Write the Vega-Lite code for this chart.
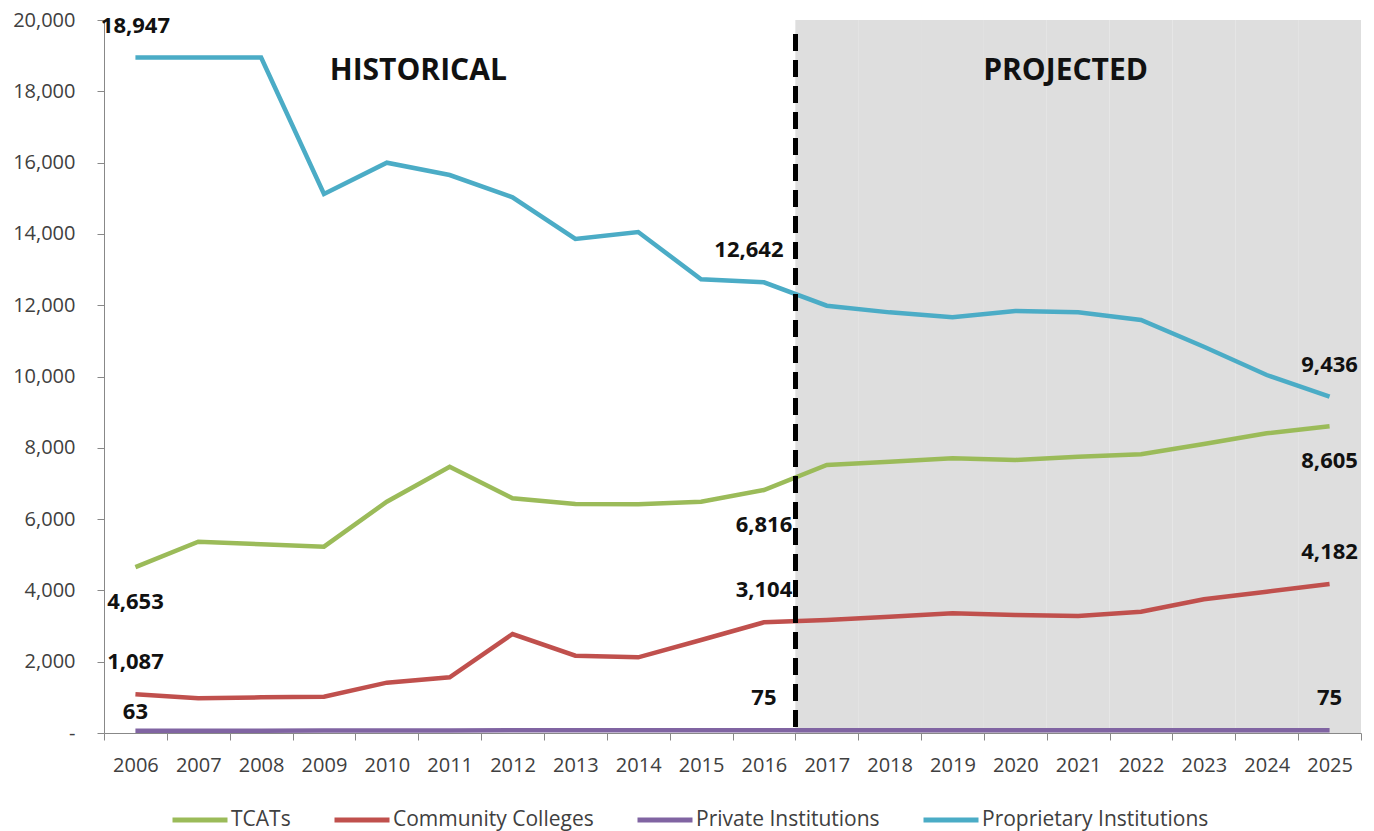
{
  "$schema": "https://vega.github.io/schema/vega-lite/v6.json",
  "width": 1257,
  "height": 713,
  "autosize": {"type": "none"},
  "padding": {"left": 104, "top": 20, "right": 13, "bottom": 98},
  "background": "white",
  "config": {
    "font": "Open Sans",
    "view": {"stroke": null}
  },
  "data": {
    "values": [
      {"year": 2006, "series": "TCATs", "value": 4653},
      {"year": 2007, "series": "TCATs", "value": 5367},
      {"year": 2008, "series": "TCATs", "value": 5292},
      {"year": 2009, "series": "TCATs", "value": 5226},
      {"year": 2010, "series": "TCATs", "value": 6489},
      {"year": 2011, "series": "TCATs", "value": 7470},
      {"year": 2012, "series": "TCATs", "value": 6582},
      {"year": 2013, "series": "TCATs", "value": 6424},
      {"year": 2014, "series": "TCATs", "value": 6414},
      {"year": 2015, "series": "TCATs", "value": 6489},
      {"year": 2016, "series": "TCATs", "value": 6816},
      {"year": 2017, "series": "TCATs", "value": 7518},
      {"year": 2018, "series": "TCATs", "value": 7611},
      {"year": 2019, "series": "TCATs", "value": 7705},
      {"year": 2020, "series": "TCATs", "value": 7658},
      {"year": 2021, "series": "TCATs", "value": 7752},
      {"year": 2022, "series": "TCATs", "value": 7817},
      {"year": 2023, "series": "TCATs", "value": 8107},
      {"year": 2024, "series": "TCATs", "value": 8406},
      {"year": 2025, "series": "TCATs", "value": 8605},
      {"year": 2006, "series": "Community Colleges", "value": 1087},
      {"year": 2007, "series": "Community Colleges", "value": 973},
      {"year": 2008, "series": "Community Colleges", "value": 1001},
      {"year": 2009, "series": "Community Colleges", "value": 1019},
      {"year": 2010, "series": "Community Colleges", "value": 1412},
      {"year": 2011, "series": "Community Colleges", "value": 1562},
      {"year": 2012, "series": "Community Colleges", "value": 2777},
      {"year": 2013, "series": "Community Colleges", "value": 2169},
      {"year": 2014, "series": "Community Colleges", "value": 2123},
      {"year": 2015, "series": "Community Colleges", "value": 2609},
      {"year": 2016, "series": "Community Colleges", "value": 3104},
      {"year": 2017, "series": "Community Colleges", "value": 3170},
      {"year": 2018, "series": "Community Colleges", "value": 3263},
      {"year": 2019, "series": "Community Colleges", "value": 3357},
      {"year": 2020, "series": "Community Colleges", "value": 3310},
      {"year": 2021, "series": "Community Colleges", "value": 3282},
      {"year": 2022, "series": "Community Colleges", "value": 3403},
      {"year": 2023, "series": "Community Colleges", "value": 3749},
      {"year": 2024, "series": "Community Colleges", "value": 3964},
      {"year": 2025, "series": "Community Colleges", "value": 4182},
      {"year": 2006, "series": "Private Institutions", "value": 63},
      {"year": 2007, "series": "Private Institutions", "value": 64},
      {"year": 2008, "series": "Private Institutions", "value": 66},
      {"year": 2009, "series": "Private Institutions", "value": 68},
      {"year": 2010, "series": "Private Institutions", "value": 70},
      {"year": 2011, "series": "Private Institutions", "value": 72},
      {"year": 2012, "series": "Private Institutions", "value": 74},
      {"year": 2013, "series": "Private Institutions", "value": 75},
      {"year": 2014, "series": "Private Institutions", "value": 75},
      {"year": 2015, "series": "Private Institutions", "value": 75},
      {"year": 2016, "series": "Private Institutions", "value": 75},
      {"year": 2017, "series": "Private Institutions", "value": 75},
      {"year": 2018, "series": "Private Institutions", "value": 75},
      {"year": 2019, "series": "Private Institutions", "value": 75},
      {"year": 2020, "series": "Private Institutions", "value": 75},
      {"year": 2021, "series": "Private Institutions", "value": 75},
      {"year": 2022, "series": "Private Institutions", "value": 75},
      {"year": 2023, "series": "Private Institutions", "value": 75},
      {"year": 2024, "series": "Private Institutions", "value": 75},
      {"year": 2025, "series": "Private Institutions", "value": 75},
      {"year": 2006, "series": "Proprietary Institutions", "value": 18947},
      {"year": 2007, "series": "Proprietary Institutions", "value": 18947},
      {"year": 2008, "series": "Proprietary Institutions", "value": 18947},
      {"year": 2009, "series": "Proprietary Institutions", "value": 15119},
      {"year": 2010, "series": "Proprietary Institutions", "value": 15997},
      {"year": 2011, "series": "Proprietary Institutions", "value": 15652},
      {"year": 2012, "series": "Proprietary Institutions", "value": 15027},
      {"year": 2013, "series": "Proprietary Institutions", "value": 13857},
      {"year": 2014, "series": "Proprietary Institutions", "value": 14053},
      {"year": 2015, "series": "Proprietary Institutions", "value": 12726},
      {"year": 2016, "series": "Proprietary Institutions", "value": 12642},
      {"year": 2017, "series": "Proprietary Institutions", "value": 11986},
      {"year": 2018, "series": "Proprietary Institutions", "value": 11799},
      {"year": 2019, "series": "Proprietary Institutions", "value": 11659},
      {"year": 2020, "series": "Proprietary Institutions", "value": 11837},
      {"year": 2021, "series": "Proprietary Institutions", "value": 11799},
      {"year": 2022, "series": "Proprietary Institutions", "value": 11585},
      {"year": 2023, "series": "Proprietary Institutions", "value": 10836},
      {"year": 2024, "series": "Proprietary Institutions", "value": 10042},
      {"year": 2025, "series": "Proprietary Institutions", "value": 9436}
    ]
  },
  "encoding": {
    "x": {
      "field": "year",
      "type": "ordinal",
      "bandPosition": 0.5,
      "scale": {"type": "band", "paddingInner": 0, "paddingOuter": 0},
      "axis": {
        "title": null,
        "labelAngle": 0,
        "labelFontSize": 20,
        "labelColor": "#404040",
        "tickBand": "extent",
        "tickSize": 7,
        "tickColor": "#888888",
        "domainColor": "#888888",
        "labelPadding": 15,
        "grid": false
      }
    }
  },
  "layer": [
    {
      "transform": [{"filter": "datum.series == 'TCATs' && datum.year >= 2017"}],
      "mark": {"type": "rect", "color": "#dedede"},
      "encoding": {
        "x": {"field": "year", "type": "ordinal"},
        "y": {"datum": 0, "type": "quantitative"},
        "y2": {"datum": 20000}
      }
    },
    {
      "mark": {"type": "line", "strokeWidth": 4.5},
      "encoding": {
        "y": {
          "field": "value",
          "type": "quantitative",
          "scale": {"domain": [0, 20000], "nice": false},
          "axis": {
            "title": null,
            "values": [0, 2000, 4000, 6000, 8000, 10000, 12000, 14000, 16000, 18000, 20000],
            "labelExpr": "datum.value == 0 ? '-\u00a0' : format(datum.value, ',')",
            "labelFontSize": 20,
            "labelColor": "#404040",
            "tickSize": 7,
            "tickColor": "#888888",
            "domainColor": "#888888",
            "labelPadding": 22,
            "grid": false
          }
        },
        "color": {
          "field": "series",
          "type": "nominal",
          "scale": {
            "domain": ["TCATs", "Community Colleges", "Private Institutions", "Proprietary Institutions"],
            "range": ["#9BBB59", "#C0504D", "#8064A2", "#4BACC6"]
          },
          "legend": {
            "title": null,
            "orient": "none",
            "legendX": 66,
            "legendY": 770,
            "direction": "horizontal",
            "symbolType": "stroke",
            "symbolSize": 3025,
            "symbolStrokeWidth": 5,
            "labelFontSize": 21,
            "labelColor": "#404040",
            "labelLimit": 0,
            "labelOffset": 1,
            "columnPadding": 33,
            "padding": 0
          }
        }
      }
    },
    {
      "mark": {"type": "rule", "strokeDash": [16, 10], "strokeWidth": 4.5, "color": "black"},
      "encoding": {
        "x": {"datum": 2017, "type": "ordinal", "bandPosition": 0},
        "y": {"datum": 19600, "type": "quantitative"},
        "y2": {"datum": 0}
      }
    },
    {
      "transform": [{"filter": "(datum.year == 2006 || datum.year == 2016 || datum.year == 2025) && datum.series != 'TCATs' && !(datum.year == 2006 && datum.series == 'Private Institutions') && !(datum.year == 2016 && datum.series == 'Proprietary Institutions')"}],
      "mark": {"type": "text", "fontSize": 22, "fontWeight": "bold", "color": "#111111", "baseline": "middle", "dy": -32},
      "encoding": {
        "y": {"field": "value", "type": "quantitative"},
        "text": {"field": "value", "type": "quantitative", "format": ","}
      }
    },
    {
      "transform": [{"filter": "datum.year == 2016 && datum.series == 'Proprietary Institutions'"}],
      "mark": {"type": "text", "fontSize": 22, "fontWeight": "bold", "color": "#111111", "baseline": "middle", "dy": -32, "dx": -15},
      "encoding": {
        "y": {"field": "value", "type": "quantitative"},
        "text": {"field": "value", "type": "quantitative", "format": ","}
      }
    },
    {
      "transform": [{"filter": "datum.year == 2006 && datum.series == 'Private Institutions'"}],
      "mark": {"type": "text", "fontSize": 22, "fontWeight": "bold", "color": "#111111", "baseline": "middle", "dy": -19},
      "encoding": {
        "y": {"field": "value", "type": "quantitative"},
        "text": {"field": "value", "type": "quantitative", "format": ","}
      }
    },
    {
      "transform": [{"filter": "(datum.year == 2006 || datum.year == 2016 || datum.year == 2025) && datum.series == 'TCATs'"}],
      "mark": {"type": "text", "fontSize": 22, "fontWeight": "bold", "color": "#111111", "baseline": "middle", "dy": 35},
      "encoding": {
        "y": {"field": "value", "type": "quantitative"},
        "text": {"field": "value", "type": "quantitative", "format": ","}
      }
    },
    {
      "data": {"values": [{"label": "HISTORICAL"}]},
      "mark": {"type": "text", "fontSize": 30, "fontWeight": "bold", "color": "#111111", "baseline": "middle"},
      "encoding": {
        "x": {"datum": 2010, "type": "ordinal", "bandPosition": 1},
        "y": {"datum": 18560, "type": "quantitative"},
        "text": {"field": "label"}
      }
    },
    {
      "data": {"values": [{"label": "PROJECTED"}]},
      "mark": {"type": "text", "fontSize": 30, "fontWeight": "bold", "color": "#111111", "baseline": "middle"},
      "encoding": {
        "x": {"datum": 2020, "type": "ordinal", "bandPosition": 1.3},
        "y": {"datum": 18560, "type": "quantitative"},
        "text": {"field": "label"}
      }
    }
  ]
}
